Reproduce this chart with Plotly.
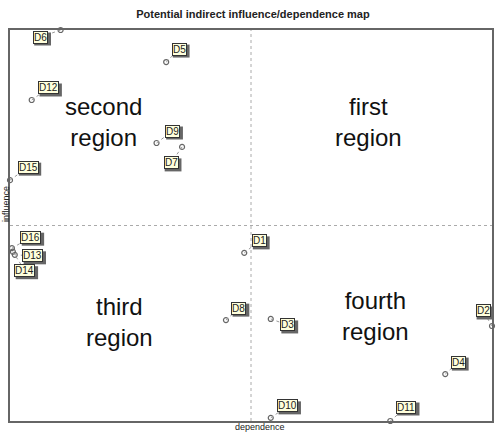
import plotly.graph_objects as go

# variables and their indirect dependence / influence scores
labels = ["D1", "D2", "D3", "D4", "D5", "D6", "D7", "D8",
          "D9", "D10", "D11", "D12", "D13", "D14", "D15", "D16"]
dependence = [48.6, 100.0, 54.1, 90.3, 32.4, 10.5, 35.7, 44.8,
              30.4, 54.1, 78.9, 4.5, 1.0, 0.6, 0.0, 0.4]
influence = [43.0, 24.3, 26.1, 12.0, 91.8, 100.0, 70.1, 25.8,
             71.1, 0.8, 0.0, 82.1, 42.5, 43.3, 61.6, 44.2]

regions = ["first<br>region", "second<br>region", "third<br>region", "fourth<br>region"]
region_x = [74.4, 19.3, 22.7, 75.8]
region_y = [76.5, 76.5, 25.3, 26.9]

# label offsets in pixels (placement of the tag boxes)
label_off = {
    "D1": (15, -12), "D2": (-9, -15), "D3": (17, 6), "D4": (13, -12),
    "D5": (13, -13), "D6": (-20, 7), "D7": (-11, 16), "D8": (13, -12),
    "D9": (16, -12), "D10": (17, -12), "D11": (16, -14), "D12": (17, -12),
    "D13": (18, 1), "D14": (12, 19), "D15": (18, -13), "D16": (19, -11),
}

fig = go.Figure()

fig.add_trace(go.Scatter(
    x=dependence, y=influence, mode="markers", cliponaxis=False,
    marker=dict(symbol="circle-open", size=5, color="#666666", line=dict(width=1.2)),
    hovertext=labels, showlegend=False,
))

shapes = [
    dict(type="line", xref="x", yref="paper", x0=50, x1=50, y0=0, y1=1,
         line=dict(color="#aaaaaa", width=1, dash="dot")),
    dict(type="line", xref="paper", yref="y", x0=0, x1=1, y0=50, y1=50,
         line=dict(color="#aaaaaa", width=1, dash="dot")),
]
annotations = []
for name, xv, yv in zip(labels, dependence, influence):
    dx, dy = label_off[name]
    w = 4 + 7.2 + 5.6 * (len(name) - 1)
    h = 13
    # dotted leader from point to tag
    shapes.append(dict(
        type="line", xref="x", yref="y", xsizemode="pixel", ysizemode="pixel",
        xanchor=xv, yanchor=yv, x0=0, y0=0, x1=dx, y1=-dy,
        line=dict(color="#999999", width=1, dash="dot"),
    ))
    # drop shadow behind tag
    shapes.append(dict(
        type="rect", xref="x", yref="y", xsizemode="pixel", ysizemode="pixel",
        xanchor=xv, yanchor=yv,
        x0=dx - w / 2 + 2, x1=dx + w / 2 + 2, y0=-dy - h / 2 - 2, y1=-dy + h / 2 - 2,
        fillcolor="#666666", line=dict(width=0), layer="above",
    ))
    annotations.append(dict(
        x=xv, y=yv, text=name, showarrow=False, xshift=dx, yshift=-dy,
        font=dict(family="Arial", size=10, color="#222222"),
        bgcolor="#ffffdc", bordercolor="#333333", borderwidth=1, borderpad=0,
    ))

for txt, xv, yv in zip(regions, region_x, region_y):
    annotations.append(dict(
        x=xv, y=yv, text=txt, showarrow=False,
        font=dict(family="Arial", size=24, color="#111111"),
    ))

# axis titles
annotations.append(dict(
    xref="paper", yref="paper", x=0.519, y=0, yshift=-6, yanchor="middle",
    text="dependence", showarrow=False,
    font=dict(family="Arial", size=9, color="#222222"),
))
annotations.append(dict(
    xref="paper", yref="paper", x=0, xshift=-4, y=0.555, xanchor="center",
    text="influence", showarrow=False, textangle=-90,
    font=dict(family="Arial", size=9, color="#222222"),
))

fig.update_layout(
    width=496, height=432,
    margin=dict(l=10, r=2, t=30, b=11),
    paper_bgcolor="white", plot_bgcolor="white",
    title=dict(text="<b>Potential indirect influence/dependence map</b>",
               x=0.51, xanchor="center", y=0.968, yanchor="middle",
               font=dict(family="Arial", size=11, color="#222222")),
    annotations=annotations,
    shapes=shapes,
)
fig.update_xaxes(range=[0, 100], showgrid=False, zeroline=False, showticklabels=False,
                 ticks="", showline=True, mirror=True, linecolor="#666666", linewidth=1.5)
fig.update_yaxes(range=[0, 100], showgrid=False, zeroline=False, showticklabels=False,
                 ticks="", showline=True, mirror=True, linecolor="#666666", linewidth=1.5)

# drop the default page margin so the figure sits at the window's corner
fig.write_html("out.html", config={"displayModeBar": False},
               post_script="document.body.style.margin='0';document.body.style.overflow='hidden';")
